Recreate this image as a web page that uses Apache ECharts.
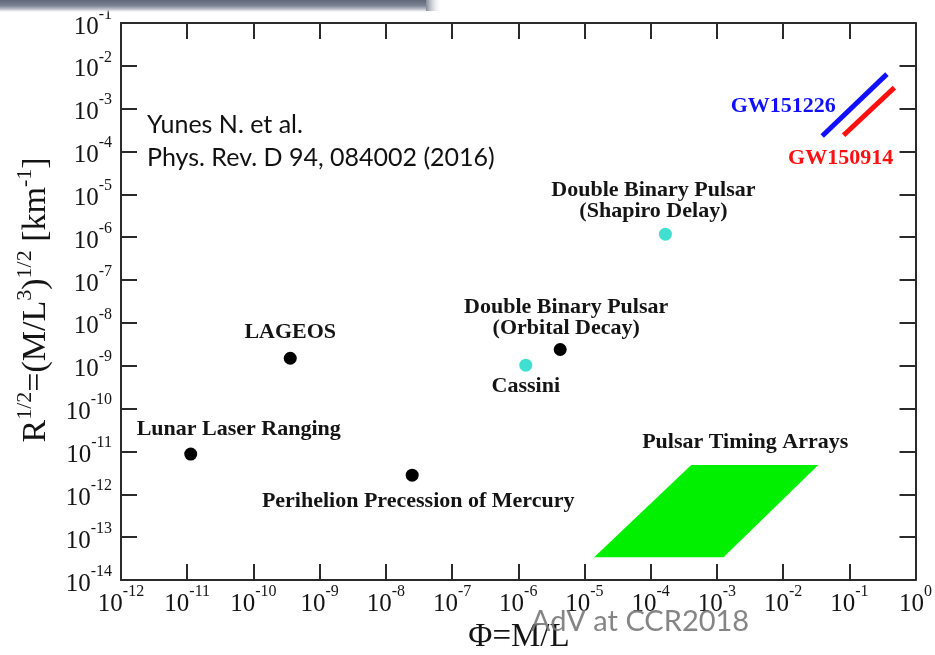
<!DOCTYPE html>
<html>
<head>
<meta charset="utf-8">
<script src="https://cdn.jsdelivr.net/npm/echarts@6/dist/echarts.min.js"></script>
<style>
  html, body { margin: 0; padding: 0; background: #ffffff; }
  #chart { width: 935px; height: 655px; }
</style>
</head>
<body>
<div id="chart"></div>
<script>
// Tests of gravity in the potential / curvature plane: Φ = M/L against R^{1/2}.

// Decade tick labels (powers of ten)
const xTickPowers = [-12, -11, -10, -9, -8, -7, -6, -5, -4, -3, -2, -1, 0];
const yTickPowers = [-14, -13, -12, -11, -10, -9, -8, -7, -6, -5, -4, -3, -2, -1];

// Classical tests (black markers)
const massiveNames = ['Lunar Laser Ranging', 'LAGEOS', 'Perihelion Precession of Mercury', 'Double Binary Pulsar\n(Orbital Decay)'];
const massivePhi = [1.13e-11, 3.6e-10, 2.5e-8, 4.3e-6];
const massiveCurv = [8.7e-12, 1.5e-9, 2.8e-12, 2.4e-9];

// Light-propagation tests (cyan markers)
const lightNames = ['Cassini', 'Double Binary Pulsar\n(Shapiro Delay)'];
const lightPhi = [1.3e-6, 1.67e-4];
const lightCurv = [1.03e-9, 1.18e-6];

// Gravitational-wave events (segments)
const gw151226Phi = [0.039, 0.37];
const gw151226Curv = [2.3e-4, 6.4e-3];
const gw150914Phi = [0.082, 0.48];
const gw150914Curv = [2.4e-4, 3.1e-3];

// Pulsar timing arrays region (corners: bottom-left, bottom-right, top-right, top-left)
const ptaPhi = [1.4e-5, 1.26e-3, 0.034, 4.1e-4];
const ptaCurv = [3.4e-14, 3.4e-14, 4.8e-12, 4.8e-12];

// ---- layout / styles ----
const SERIF = '"Liberation Serif", "DejaVu Serif", serif';
const SANS = 'Lato, "Liberation Sans", sans-serif';
const INK = '#141414';
const labelOffsets = {
  'Lunar Laser Ranging': [48, -25],
  'LAGEOS': [0, -26],
  'Perihelion Precession of Mercury': [6, 26],
  'Double Binary Pulsar\n(Orbital Decay)': [6, -32],
  'Cassini': [0, 21],
  'Double Binary Pulsar\n(Shapiro Delay)': [-12, -33]
};

const lg = v => Math.log10(v);

const tickRich = {
  b: { fontFamily: SERIF, fontSize: 25, lineHeight: 25, color: INK, padding: [8, 0, 0, 0] },
  s: { fontFamily: SERIF, fontSize: 16, lineHeight: 16, color: INK, padding: [0, 0, 17, 0] }
};
const powLabel = v => '{b|10}{s|' + Math.round(v) + '}';

const pointLabel = {
  show: true,
  position: 'inside',
  formatter: '{b}',
  fontFamily: SERIF,
  fontWeight: 'bold',
  fontSize: 22,
  lineHeight: 21,
  color: INK,
  opacity: 1
};

function pointData(names, phi, curv) {
  return names.map((n, i) => ({
    name: n,
    value: [lg(phi[i]), lg(curv[i])],
    label: { offset: labelOffsets[n] }
  }));
}

function segmentData(phi, curv, text, color, offset) {
  return phi.map((x, i) => {
    const item = { value: [lg(x), lg(curv[i])] };
    if (i === 0) {
      item.label = {
        show: true, position: 'inside', formatter: text, offset: offset,
        fontFamily: SERIF, fontWeight: 'bold', fontSize: 22, color: color
      };
    }
    return item;
  });
}

const axisCommon = {
  type: 'value',
  splitLine: { show: false },
  axisLine: { show: true, onZero: false, lineStyle: { color: '#2a2a2a', width: 2 } },
  axisTick: { show: true, inside: true, length: 16, lineStyle: { color: '#2a2a2a', width: 2 } }
};

const chart = echarts.init(document.getElementById('chart'), null, { renderer: 'canvas' });

chart.setOption({
  animation: false,
  backgroundColor: '#ffffff',
  grid: { left: 121, right: 17, top: 23, bottom: 75, containLabel: false },
  xAxis: [
    Object.assign({}, axisCommon, {
      position: 'bottom',
      min: xTickPowers[0], max: xTickPowers[xTickPowers.length - 1], interval: 1,
      axisLabel: { show: true, margin: 8, formatter: powLabel, rich: tickRich, showMinLabel: true, showMaxLabel: true, hideOverlap: false }
    }),
    Object.assign({}, axisCommon, {
      position: 'top',
      min: xTickPowers[0], max: xTickPowers[xTickPowers.length - 1], interval: 1,
      axisLabel: { show: false }
    })
  ],
  yAxis: [
    Object.assign({}, axisCommon, {
      position: 'left',
      min: yTickPowers[0], max: yTickPowers[yTickPowers.length - 1], interval: 1,
      axisLabel: { show: true, margin: 9, formatter: powLabel, rich: tickRich, showMinLabel: true, showMaxLabel: true, hideOverlap: false }
    }),
    Object.assign({}, axisCommon, {
      position: 'right',
      min: yTickPowers[0], max: yTickPowers[yTickPowers.length - 1], interval: 1,
      axisLabel: { show: false }
    })
  ],
  series: [
    {
      type: 'custom',
      name: 'Pulsar Timing Arrays',
      xAxisIndex: 0, yAxisIndex: 0,
      clip: false,
      data: [[lg(ptaPhi[0]), lg(ptaCurv[0])]],
      renderItem: function (params, api) {
        const pts = ptaPhi.map((x, i) => api.coord([lg(x), lg(ptaCurv[i])]));
        const topLeft = pts[3];
        return {
          type: 'group',
          children: [
            { type: 'polygon', shape: { points: pts }, style: { fill: '#00f000' } },
            {
              type: 'text', x: topLeft[0] + 54, y: topLeft[1] - 23,
              style: {
                text: 'Pulsar Timing Arrays', fill: INK,
                font: 'bold 22px ' + SERIF, align: 'center', verticalAlign: 'middle'
              }
            }
          ]
        };
      }
    },
    {
      type: 'line',
      name: 'GW151226',
      data: segmentData(gw151226Phi, gw151226Curv, 'GW151226', '#1010ff', [-39, -30]),
      symbol: 'circle', symbolSize: 0, showSymbol: true,
      itemStyle: { color: '#1010ff' },
      lineStyle: { color: '#1010ff', width: 5 }
    },
    {
      type: 'line',
      name: 'GW150914',
      data: segmentData(gw150914Phi, gw150914Curv, 'GW150914', '#ff1010', [-3, 23]),
      symbol: 'circle', symbolSize: 0, showSymbol: true,
      itemStyle: { color: '#ff1010' },
      lineStyle: { color: '#ff1010', width: 5 }
    },
    {
      type: 'scatter',
      name: 'massive bodies',
      symbol: 'circle', symbolSize: 13,
      itemStyle: { color: '#000000', opacity: 1 },
      label: pointLabel,
      data: pointData(massiveNames, massivePhi, massiveCurv)
    },
    {
      type: 'scatter',
      name: 'light propagation',
      symbol: 'circle', symbolSize: 13,
      itemStyle: { color: '#40e0d0', opacity: 1 },
      label: pointLabel,
      data: pointData(lightNames, lightPhi, lightCurv)
    }
  ],
  graphic: [
    // slide header shadow strip
    {
      type: 'rect', left: 0, top: 0, z: 100,
      shape: { x: 0, y: 0, width: 426, height: 13 },
      style: {
        fill: new echarts.graphic.LinearGradient(0, 0, 0, 1, [
          { offset: 0, color: '#5f6779' },
          { offset: 0.45, color: '#7d8494' },
          { offset: 0.75, color: '#c9ccd3' },
          { offset: 1, color: 'rgba(255,255,255,0)' }
        ])
      }
    },
    {
      type: 'rect', left: 426, top: 0, z: 100,
      shape: { x: 0, y: 0, width: 16, height: 11, r: [0, 8, 8, 0] },
      style: {
        fill: new echarts.graphic.LinearGradient(0, 0, 1, 0, [
          { offset: 0, color: 'rgba(110,117,133,0.85)' },
          { offset: 1, color: 'rgba(255,255,255,0)' }
        ])
      }
    },
    // reference
    {
      type: 'text', x: 147, y: 125, z: 50,
      style: { text: 'Yunes N. et al.', font: '25px ' + SANS, fill: '#111', align: 'left', verticalAlign: 'middle' }
    },
    {
      type: 'text', x: 147, y: 158, z: 50,
      style: { text: 'Phys. Rev. D 94, 084002 (2016)', font: '25px ' + SANS, fill: '#111', align: 'left', verticalAlign: 'middle' }
    },
    // axis titles
    {
      type: 'text', x: 519, y: 637, z: 50,
      style: { text: 'Φ=M/L', font: '33px ' + SERIF, fill: INK, align: 'center', verticalAlign: 'middle' }
    },
    {
      type: 'text', x: 34, y: 300, rotation: Math.PI / 2, z: 50,
      style: {
        text: '{r|R}{s|1/2}{r|=(M/L}{s|3}{r|)}{s|1/2}{r| [km}{s|-1}{r|]}',
        align: 'center', verticalAlign: 'middle',
        rich: {
          r: { fontFamily: SERIF, fontSize: 34, lineHeight: 34, fill: INK, padding: [5, 0, 0, 0] },
          s: { fontFamily: SERIF, fontSize: 22, lineHeight: 22, fill: INK, padding: [0, 0, 17, 0] }
        }
      }
    },
    // event caption
    {
      type: 'text', x: 640, y: 622, z: 120,
      style: { text: 'AdV at CCR2018', font: '29px ' + SANS, fill: 'rgba(120,120,120,0.9)', align: 'center', verticalAlign: 'middle' }
    }
  ]
});
</script>
</body>
</html>
